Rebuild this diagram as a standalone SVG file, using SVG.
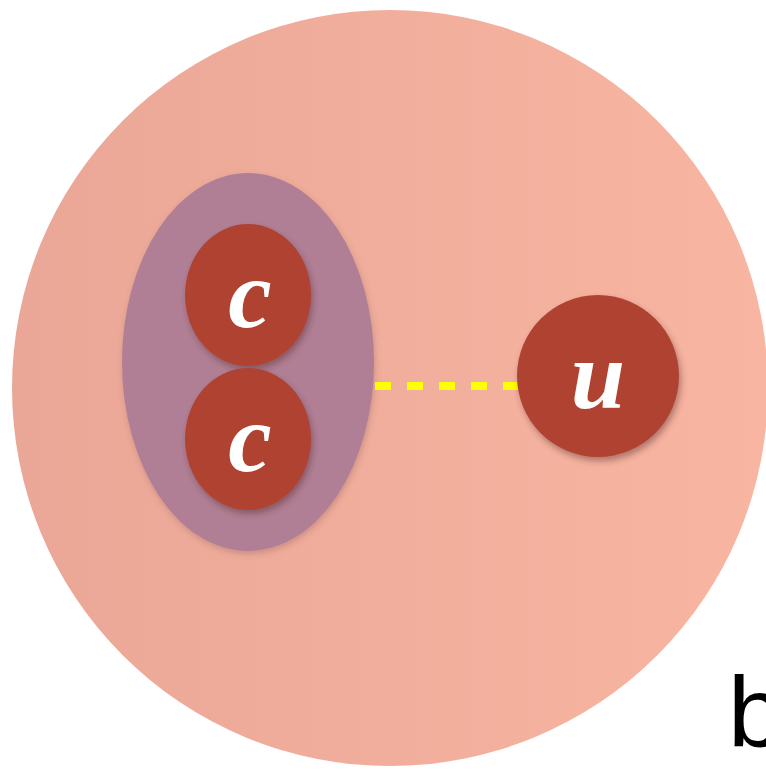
<svg xmlns="http://www.w3.org/2000/svg" width="766" height="770" viewBox="0 0 766 770">
<defs>
<linearGradient id="bg" x1="0" y1="0" x2="1" y2="0">
<stop offset="0" stop-color="#eaa797"/>
<stop offset="1" stop-color="#f8b5a1"/>
</linearGradient>
<filter id="sh" x="-20%" y="-20%" width="140%" height="140%">
<feDropShadow dx="2" dy="4" stdDeviation="3" flood-color="#5a2a2a" flood-opacity="0.45"/>
</filter>
<filter id="sh2" x="-20%" y="-20%" width="140%" height="140%">
<feDropShadow dx="1" dy="3" stdDeviation="3" flood-color="#7a4a4a" flood-opacity="0.3"/>
</filter>
</defs>
<style>
.ball{fill:#b04333;filter:url(#sh)}
.lbl{font-family:"Liberation Serif","DejaVu Serif",serif;font-style:italic;font-weight:bold;font-size:98px;fill:#ffffff;text-anchor:middle}
.conn{stroke:#ffff00;stroke-width:8;stroke-dasharray:16 16;fill:none}
</style>
<rect width="766" height="770" fill="#ffffff"/>
<g id="outer">
<circle cx="390" cy="388" r="378" fill="url(#bg)"/>
</g>
<g id="pair">
<ellipse cx="248" cy="362" rx="126" ry="189" fill="#b07f95" filter="url(#sh2)"/>
</g>
<g id="connectors">
<line class="conn" x1="375" y1="386" x2="518" y2="386"/>
</g>
<g id="c1">
<ellipse class="ball" cx="248" cy="295" rx="63" ry="71"/>
<text class="lbl" x="250" y="327">c</text>
</g>
<g id="c2">
<ellipse class="ball" cx="248" cy="439" rx="63" ry="71"/>
<text class="lbl" x="250" y="471">c</text>
</g>
<g id="u">
<circle class="ball" cx="598" cy="376" r="81"/>
<text class="lbl" x="598" y="408">u</text>
</g>
<text x="728" y="747" font-family="Liberation Sans, Arial, sans-serif" font-size="100" fill="#000000">b</text>
</svg>
